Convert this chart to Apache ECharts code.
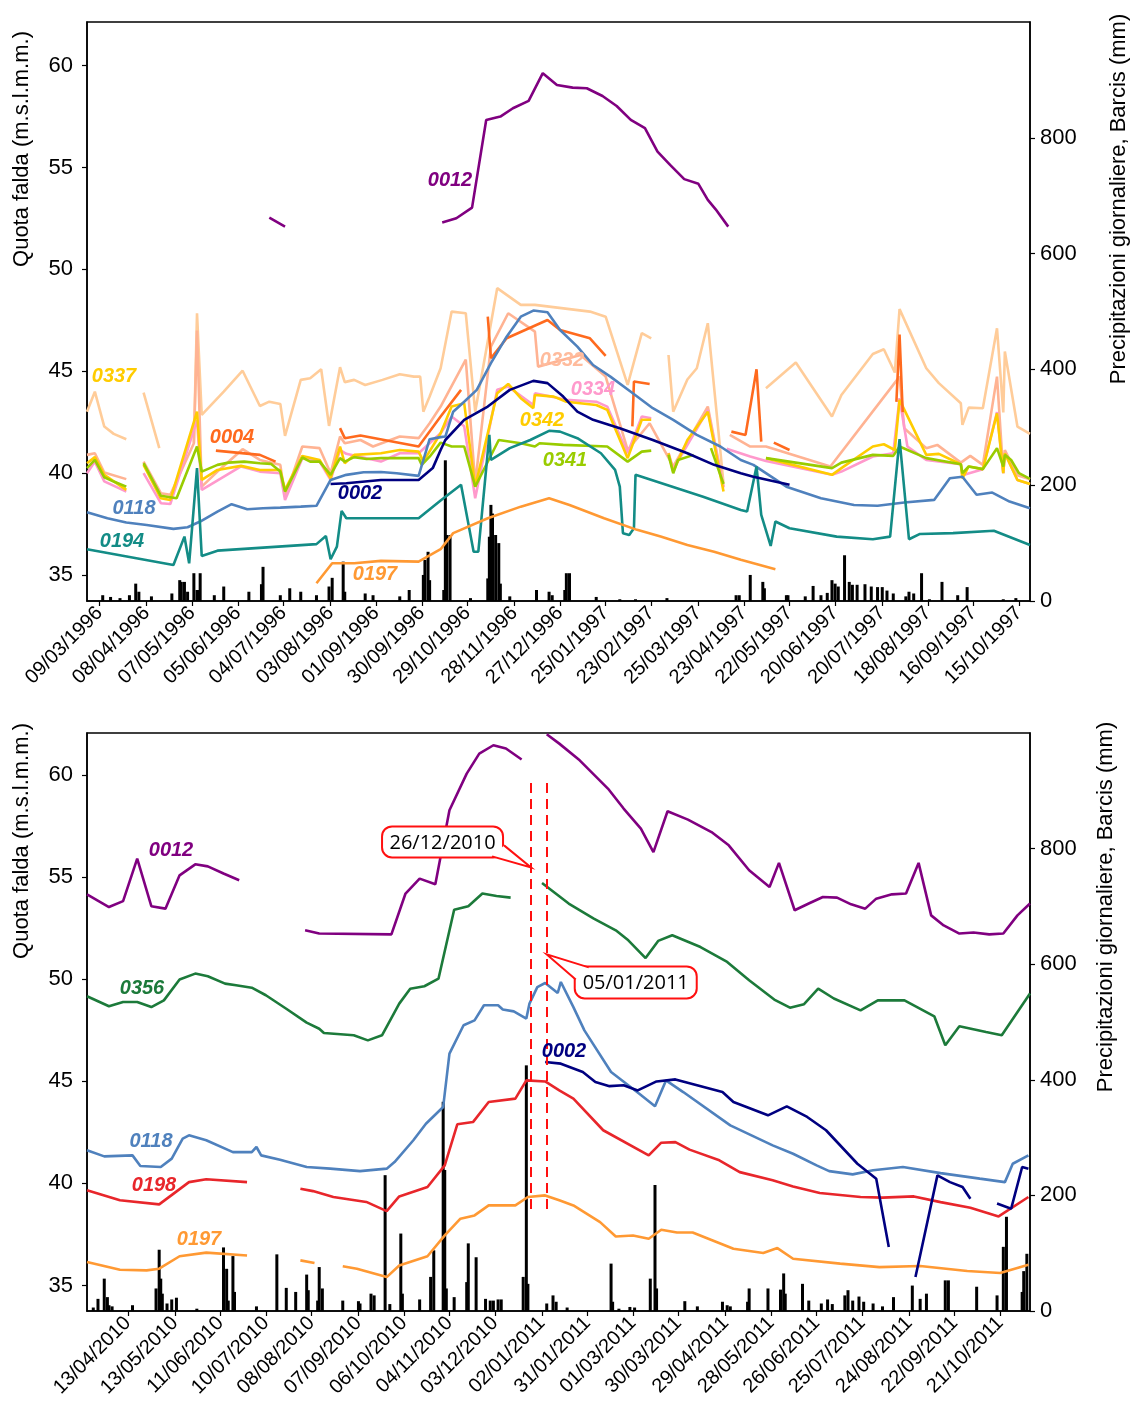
<!DOCTYPE html>
<html><head><meta charset="utf-8">
<script src="https://cdn.jsdelivr.net/npm/echarts@6/dist/echarts.min.js"></script>
<style>html,body{margin:0;padding:0;background:#fff}#c{width:1135px;height:1407px}</style>
</head><body><div id="c"></div>
<script>
// ---------- DATA ----------
// x values are days counted from the base date of each panel
const BASE_TOP = '01/03/1996';
const BASE_BOT = '18/03/2010';
const END_TOP = 600, END_BOT = 601;

const TICKS_TOP = ['09/03/1996','08/04/1996','07/05/1996','05/06/1996','04/07/1996','03/08/1996','01/09/1996','30/09/1996','29/10/1996','28/11/1996','27/12/1996','25/01/1997','23/02/1997','25/03/1997','23/04/1997','22/05/1997','20/06/1997','20/07/1997','18/08/1997','16/09/1997','15/10/1997'];
const TICKS_BOT = ['13/04/2010','13/05/2010','11/06/2010','10/07/2010','08/08/2010','07/09/2010','06/10/2010','04/11/2010','03/12/2010','02/01/2011','31/01/2011','01/03/2011','30/03/2011','29/04/2011','28/05/2011','26/06/2011','25/07/2011','24/08/2011','22/09/2011','21/10/2011'];
const LEVEL_TICKS = [35,40,45,50,55,60];
const RAIN_TICKS = [0,200,400,600,800];
const EVENT_DATES = ['26/12/2010','05/01/2011'];

// ---- 1996-1997 groundwater levels (m s.l.m.m.) ----
const TOP_0012 = [[116,52.54],[126,52.10],[175,null],[226,52.30],[235,52.51],[245,53.03],[254,57.33],[263,57.50],[271,57.91],[281,58.27],[290,59.63],[299,59.05],[309,58.92],[318,58.89],[328,58.51],[337,58.02],[346,57.34],[355,56.93],[363,55.78],[371,55.13],[380,54.43],[389,54.20],[395,53.41],[400,52.95],[408,52.10]];
const TOP_0337 = [[0,43.02],[5,44.00],[11,42.29],[17,41.93],[25,41.67],[30,null],[36,43.95],[46,41.23],[57,null],[68,41.5],[70,47.85],[73,42.86],[87,44.00],[99,45.03],[110,43.30],[116,43.51],[123,43.40],[126,41.83],[136,44.58],[142,44.66],[149,45.10],[154,42.32],[161,45.20],[164,44.47],[170,44.58],[177,44.33],[188,44.58],[199,44.86],[208,44.74],[212,44.74],[214,43.02],[218,43.76],[225,45.15],[232,47.93],[241,47.85],[247,43.02],[261,49.08],[276,48.26],[285,48.26],[320,47.93],[330,47.68],[344,44.33],[353,46.87],[359,46.62],[364,null],[370,45.80],[373,43.02],[382,44.6],[388,45.15],[395,47.36],[405,39.5],[418,null],[432,44.17],[451,45.43],[474,42.78],[480,43.84],[500,45.85],[507,46.08],[514,44.94],[517,48.05],[534,45.15],[542,44.42],[556,43.43],[557,42.37],[561,43.22],[570,43.19],[579,47.11],[583,42.98],[584,45.97],[592,42.29],[600,41.93]];
const TOP_0332 = [[0,40.90],[5,40.98],[11,40.03],[25,39.71],[30,null],[36,40.57],[47,39.02],[53,38.94],[68,41.47],[70,47.0],[73,39.34],[83,40.08],[99,41.18],[110,40.65],[123,40.41],[126,38.85],[137,41.31],[148,41.23],[155,40.00],[161,41.80],[164,41.47],[174,41.63],[182,41.31],[199,41.80],[211,41.72],[218,42.45],[225,43.27],[241,45.57],[247,39.51],[257,46.21],[268,47.85],[285,46.95],[287,45.23],[314,45.80],[330,44.74],[344,41.14],[358,42.45],[373,40.33],[395,43.27],[405,39.34],[407,null],[409,41.88],[422,41.31],[432,41.31],[473,40.33],[517,44.74],[520,42.21],[534,41.23],[541,41.39],[556,40.52],[562,40.85],[570,40.41],[579,44.74],[583,40.00],[584,41.14],[592,39.90],[600,39.70]];
const TOP_0334 = [[0,40.00],[5,40.57],[11,39.60],[25,39.10],[30,null],[36,40.00],[47,38.53],[53,38.49],[70,42.62],[73,39.18],[98,40.33],[110,40.08],[123,40.00],[126,38.69],[137,40.74],[148,40.57],[155,39.67],[161,41.14],[165,40.95],[187,40.57],[199,40.98],[211,40.98],[225,41.96],[232,42.78],[240,42.30],[247,38.77],[261,44.09],[268,44.25],[284,43.35],[285,43.92],[305,43.60],[324,43.51],[331,43.27],[344,40.98],[353,42.78],[359,42.70],[364,null],[370,41.00],[373,40.20],[395,43.10],[405,39.30],[406,null],[407,41.20],[422,40.82],[432,40.60],[474,39.92],[480,40.08],[500,40.82],[513,40.98],[517,43.68],[522,41.31],[534,40.65],[556,40.44],[557,39.90],[570,40.20],[579,43.00],[583,40.00],[584,40.98],[592,39.67],[600,39.47]];
const TOP_0342 = [[0,40.49],[5,40.79],[11,39.92],[25,39.18],[30,null],[36,40.41],[47,38.77],[53,38.69],[70,43.02],[73,39.67],[83,40.16],[98,40.36],[110,40.16],[123,40.16],[126,39.18],[137,40.85],[148,40.65],[155,39.75],[161,41.31],[164,40.49],[170,40.90],[187,40.98],[199,41.14],[211,41.06],[214,40.57],[225,41.96],[232,43.27],[240,43.43],[247,39.34],[261,43.92],[268,44.38],[276,43.68],[284,43.19],[285,43.84],[297,43.76],[305,43.51],[324,43.35],[331,43.11],[344,40.74],[353,42.62],[359,42.62],[364,null],[370,40.98],[373,40.08],[382,41.63],[395,43.02],[405,39.10],[418,null],[432,40.74],[474,39.92],[480,40.25],[500,41.31],[507,41.42],[514,41.14],[517,43.60],[534,40.90],[542,40.95],[556,40.44],[557,39.75],[561,40.33],[570,40.20],[579,42.94],[583,40.00],[584,40.98],[592,39.67],[600,39.47]];
const TOP_0341 = [[0,40.25],[5,40.65],[11,39.80],[17,39.59],[25,39.34],[30,null],[36,40.49],[47,38.89],[57,38.77],[70,41.31],[73,40.08],[83,40.41],[90,40.52],[100,40.57],[110,40.49],[117,40.46],[123,40.08],[126,39.10],[137,40.77],[142,40.57],[148,40.57],[155,39.92],[161,40.74],[164,40.57],[170,40.79],[178,40.70],[187,40.74],[211,40.74],[213,40.41],[218,40.81],[225,41.50],[232,41.31],[240,41.31],[247,39.34],[262,41.63],[276,41.47],[285,41.31],[288,41.47],[303,41.39],[331,41.31],[344,40.57],[353,41.06],[359,41.11],[364,null],[370,40.90],[373,40.00],[376,40.65],[386,40.90],[391,null],[397,41.23],[405,39.47],[418,null],[432,40.74],[474,40.25],[480,40.52],[500,40.90],[513,40.85],[517,41.31],[534,40.74],[556,40.44],[557,40.00],[561,40.33],[570,40.20],[579,41.23],[583,40.33],[584,40.90],[588,40.65],[593,40.00],[600,39.72]];
const TOP_0004 = [[82,41.11],[110,40.90],[120,40.57],[140,null],[161,42.21],[164,41.72],[174,41.85],[211,41.31],[225,42.78],[238,44.09],[246,null],[255,47.68],[257,45.64],[267,46.62],[293,47.52],[301,47.03],[320,46.62],[330,45.76],[340,null],[347,42.3],[348,44.5],[358,44.38],[380,null],[410,42.04],[419,41.88],[426,45.10],[429,41.55],[433,null],[437,41.50],[447,41.14],[480,null],[515,43.5],[517,46.8],[519,43.0]];
const TOP_0118 = [[0,38.09],[13,37.79],[25,37.58],[38,37.46],[55,37.27],[64,37.35],[72,37.63],[83,38.12],[92,38.48],[102,38.23],[112,38.28],[123,38.31],[136,38.36],[146,38.40],[155,39.67],[165,39.92],[176,40.05],[187,40.06],[197,40.00],[211,39.87],[218,41.67],[225,41.77],[228,41.80],[233,43.02],[240,43.51],[248,44.09],[257,45.40],[267,46.70],[276,47.68],[284,47.98],[293,47.90],[301,47.03],[312,46.21],[322,45.31],[333,44.74],[346,44.00],[360,43.19],[373,42.62],[388,41.88],[403,41.31],[416,40.65],[424,40.41],[445,39.34],[467,38.77],[488,38.44],[503,38.40],[520,38.56],[539,38.69],[549,39.75],[557,39.83],[566,38.94],[576,39.05],[587,38.61],[600,38.28]];
const TOP_0194 = [[0,36.27],[55,35.50],[62,36.89],[65,35.58],[70,40.25],[73,35.94],[83,36.20],[146,36.52],[152,36.92],[155,35.78],[159,36.40],[162,38.15],[165,37.79],[211,37.79],[225,38.66],[238,39.43],[246,36.15],[249,36.15],[256,41.88],[257,40.65],[269,41.23],[282,41.63],[294,42.08],[301,42.04],[312,41.72],[327,40.98],[336,40.16],[339,39.34],[341,37.06],[345,36.97],[348,37.30],[349,39.92],[392,38.85],[416,38.20],[420,38.12],[426,40.33],[429,37.95],[435,36.43],[438,37.63],[447,37.30],[477,36.89],[500,36.76],[511,36.89],[517,41.67],[523,36.76],[530,37.02],[551,37.06],[577,37.18],[600,36.48]];
const TOP_0002 = [[155,39.47],[165,39.51],[187,39.67],[211,39.67],[220,40.25],[225,41.14],[228,41.63],[240,42.62],[255,43.27],[269,44.09],[284,44.53],[293,44.42],[303,43.76],[312,43.02],[322,42.62],[339,42.21],[360,41.63],[382,40.98],[399,40.41],[416,40.00],[424,39.83],[447,39.43]];
const TOP_0197 = [[146,34.60],[156,35.58],[170,35.58],[187,35.70],[211,35.66],[225,36.27],[233,37.06],[255,37.79],[276,38.36],[294,38.77],[307,38.44],[329,37.79],[350,37.22],[365,36.89],[382,36.48],[399,36.15],[416,35.75],[438,35.29]];
// daily rainfall Barcis (mm)
const TOP_RAIN = [[10,10],[15,7],[21,5],[27,10],[31,30],[33,16],[41,8],[54,13],[59,36],[60,33],[62,33],[64,16],[68,48],[70,19],[71,19],[72,48],[81,10],[87,25],[103,16],[111,29],[112,59],[123,10],[129,22],[136,16],[146,10],[154,25],[156,40],[163,68],[164,16],[177,13],[182,10],[199,8],[205,19],[214,45],[215,71],[217,85],[218,36],[227,19],[228,243],[229,114],[231,114],[244,5],[255,39],[256,111],[257,166],[258,151],[260,114],[262,100],[263,30],[269,8],[286,19],[294,16],[296,10],[304,19],[305,48],[307,48],[324,7],[339,3],[349,3],[369,5],[413,10],[415,10],[422,45],[430,33],[431,22],[445,10],[446,10],[457,8],[462,26],[467,10],[471,14],[474,36],[476,30],[478,25],[482,79],[485,33],[487,28],[490,28],[495,29],[499,25],[503,24],[506,24],[509,18],[513,13],[521,8],[523,16],[526,13],[531,48],[536,3],[544,33],[554,10],[560,24],[583,3],[591,5]];

// ---- 2010-2011 groundwater levels ----
const BOT_0012 = [[0,54.15],[14,53.53],[23,53.82],[32,55.90],[41,53.57],[50,53.45],[59,55.08],[69,55.62],[77,55.52],[87,55.17],[97,54.84],[118,null],[139,52.39],[148,52.23],[194,52.19],[203,54.19],[212,54.92],[222,54.64],[231,58.27],[242,60.06],[250,61.04],[259,61.45],[267,61.29],[277,60.75],[285,null],[293,61.99],[301,61.53],[314,60.71],[332,59.33],[342,58.35],[353,57.37],[361,56.22],[370,58.22],[383,57.81],[398,57.20],[409,56.55],[422,55.33],[435,54.51],[441,55.69],[451,53.37],[460,53.70],[469,54.02],[478,53.99],[487,53.66],[496,53.45],[503,53.94],[513,54.15],[522,54.19],[530,55.69],[538,53.12],[546,52.63],[556,52.23],[565,52.28],[575,52.19],[584,52.23],[593,53.12],[601,53.70]];
const BOT_0356 = [[0,49.16],[14,48.67],[23,48.88],[32,48.88],[41,48.63],[49,48.96],[59,49.98],[69,50.27],[77,50.14],[88,49.78],[95,49.70],[105,49.58],[114,49.21],[127,48.55],[140,47.87],[148,47.57],[151,47.36],[170,47.25],[179,47.00],[188,47.25],[199,48.80],[206,49.53],[215,49.65],[224,50.02],[234,53.40],[243,53.57],[252,54.19],[261,54.07],[270,53.99],[280,null],[290,54.71],[307,53.70],[323,52.96],[337,52.39],[345,51.90],[356,51.03],[364,51.87],[373,52.15],[391,51.57],[408,50.84],[422,49.94],[438,49.00],[448,48.60],[457,48.77],[466,49.53],[476,49.05],[493,48.47],[504,48.96],[521,48.96],[540,48.18],[547,46.76],[556,47.69],[573,47.41],[583,47.25],[601,49.30]];
const BOT_0118 = [[0,41.62],[11,41.32],[29,41.37],[34,40.85],[47,40.80],[54,41.21],[61,42.19],[65,42.35],[76,42.11],[93,41.53],[105,41.53],[108,41.78],[111,41.37],[123,41.16],[140,40.80],[155,40.72],[174,40.60],[191,40.72],[196,41.04],[208,42.11],[216,42.92],[227,43.74],[231,46.35],[240,47.74],[247,47.98],[253,48.72],[262,48.72],[265,48.51],[272,48.42],[280,48.07],[282,48.80],[287,49.61],[292,49.81],[300,49.32],[302,49.86],[310,48.63],[317,47.49],[334,45.45],[352,44.39],[362,43.77],[369,45.04],[380,44.47],[410,42.84],[437,41.86],[450,41.45],[465,40.88],[473,40.60],[488,40.44],[501,40.64],[520,40.80],[544,40.50],[569,40.23],[585,40.06],[590,40.96],[600,41.37]];
const BOT_0198 = [[0,39.66],[21,39.17],[46,38.97],[65,40.06],[76,40.20],[102,40.06],[118,null],[136,39.74],[144,39.62],[157,39.33],[178,39.09],[191,38.64],[199,39.36],[217,39.82],[228,40.88],[236,42.89],[246,43.00],[256,43.98],[273,44.15],[280,45.04],[292,44.99],[301,44.55],[310,44.15],[329,42.60],[358,41.37],[366,41.99],[375,42.02],[384,41.65],[403,41.13],[416,40.55],[437,40.15],[450,39.85],[467,39.53],[493,39.33],[507,39.30],[527,39.36],[544,39.08],[563,38.81],[581,38.38],[600,39.33]];
const BOT_0197 = [[0,36.15],[21,35.77],[38,35.74],[46,35.82],[59,36.43],[76,36.61],[102,36.47],[118,null],[136,36.23],[145,36.10],[154,null],[163,35.94],[172,35.82],[191,35.41],[199,35.98],[217,36.43],[228,37.45],[238,38.27],[247,38.43],[256,38.92],[273,38.92],[281,39.33],[292,39.41],[301,39.17],[310,38.92],[327,38.10],[337,37.40],[348,37.45],[358,37.29],[366,37.73],[376,37.59],[386,37.59],[412,36.80],[431,36.59],[440,36.83],[450,36.31],[480,36.07],[505,35.90],[531,35.95],[561,35.71],[582,35.61],[600,36.02]];
const BOT_0002 = [[292,45.94],[302,45.86],[316,45.45],[324,44.96],[333,44.76],[342,44.80],[351,44.55],[363,44.99],[375,45.09],[405,44.47],[412,43.98],[434,43.33],[446,43.77],[459,43.25],[471,42.60],[491,40.96],[503,40.23],[511,36.88],[520,null],[528,35.41],[542,40.39],[550,40.06],[558,39.82],[563,39.25],[571,null],[580,39.01],[589,38.76],[596,40.80],[600,40.72]];
const BOT_RAIN = [[4,6],[7,21],[11,56],[13,24],[14,10],[16,8],[29,10],[44,39],[46,106],[47,56],[48,30],[51,13],[54,20],[57,23],[70,4],[87,110],[89,73],[90,18],[93,95],[94,33],[108,8],[121,98],[127,40],[133,33],[140,63],[141,36],[147,18],[148,76],[150,39],[163,18],[173,17],[174,13],[181,30],[183,27],[190,235],[193,12],[200,134],[201,30],[212,20],[219,59],[221,105],[227,362],[228,244],[229,39],[234,24],[242,50],[243,117],[248,93],[254,21],[257,18],[259,18],[262,20],[264,20],[278,59],[280,425],[281,47],[293,13],[297,27],[299,16],[306,6],[334,82],[335,16],[339,4],[346,7],[349,6],[359,56],[362,218],[363,39],[381,17],[389,8],[405,16],[408,10],[410,8],[421,16],[422,39],[434,39],[442,37],[444,65],[445,30],[456,47],[460,18],[468,13],[472,20],[475,12],[483,27],[485,36],[488,18],[492,25],[495,16],[501,13],[507,8],[514,24],[526,44],[531,21],[535,30],[547,53],[549,53],[567,42],[580,27],[584,111],[586,163],[596,33],[597,69],[599,99]];

// ---------- HELPERS ----------
const DAY = 86400000;
function parseDMY(s){const p=s.split('/').map(Number);return Date.UTC(p[2],p[1]-1,p[0]);}
function dayOf(s,base){return Math.round((parseDMY(s)-parseDMY(base))/DAY);}
function pad(n){return (n<10?'0':'')+n;}
function fmt(day,base){const t=new Date(parseDMY(base)+Math.round(day)*DAY);return pad(t.getUTCDate())+'/'+pad(t.getUTCMonth()+1)+'/'+t.getUTCFullYear();}

const FONT = '"Liberation Sans", Arial, sans-serif';
const topTickDays = TICKS_TOP.map(s=>dayOf(s,BASE_TOP));
const botTickDays = TICKS_BOT.map(s=>dayOf(s,BASE_BOT));

const COL = {
  c0012:'#800080', c0337:'#FFCC99', c0332:'#FFB393', c0334:'#FF99CC', c0342:'#FFCC00',
  c0341:'#99CC00', c0004:'#FF6A1E', c0118:'#4F81BD', c0194:'#138C86', c0002:'#000080',
  c0197:'#FF9933', c0356:'#1C7A3A', c0198:'#E8262B'
};

function line(data,color,xi,yi){
  return {type:'line',xAxisIndex:xi,yAxisIndex:yi,
    data:data.map(p=>[p[0],p[1]===null?'-':p[1]]),
    showSymbol:false,symbol:'none',connectNulls:false,
    lineStyle:{color:color,width:2.6},itemStyle:{color:color},
    emphasis:{disabled:true},animation:false,z:3};
}
function bars(data,xi,yi){
  return {type:'bar',xAxisIndex:xi,yAxisIndex:yi,data:data,barWidth:3,
    itemStyle:{color:'#000'},emphasis:{disabled:true},animation:false,z:2};
}
function xAxis(gi,max,ticks,base){
  return {type:'value',gridIndex:gi,min:0,max:max,
    axisLine:{show:true,onZero:false,lineStyle:{color:'#000',width:1.5}},
    axisTick:{show:true,customValues:ticks,length:5,lineStyle:{color:'#000',width:1.2}},
    axisLabel:{customValues:ticks,rotate:45,margin:9,fontSize:20,fontFamily:FONT,color:'#000',
      formatter:v=>fmt(v,base)},
    splitLine:{show:false}};
}
function yLevel(gi,min,max){
  return {type:'value',gridIndex:gi,position:'left',min:min,max:max,
    axisLine:{show:true,onZero:false,lineStyle:{color:'#000',width:1.5}},
    axisTick:{show:true,customValues:LEVEL_TICKS,length:5,lineStyle:{color:'#000',width:1.2}},
    axisLabel:{customValues:LEVEL_TICKS,margin:14,fontSize:22,fontFamily:FONT,color:'#000'},
    splitLine:{show:false}};
}
function yRain(gi){
  return {type:'value',gridIndex:gi,position:'right',min:0,max:1000,
    axisLine:{show:true,onZero:false,lineStyle:{color:'#000',width:1.5}},
    axisTick:{show:true,customValues:RAIN_TICKS,length:5,lineStyle:{color:'#000',width:1.2}},
    axisLabel:{customValues:RAIN_TICKS,margin:10,fontSize:22,fontFamily:FONT,color:'#000'},
    splitLine:{show:false}};
}

const eventDays = EVENT_DATES.map(s=>dayOf(s,BASE_BOT));
const s0198 = line(BOT_0198,COL.c0198,1,2);
s0198.markLine = {symbol:'none',silent:true,animation:false,label:{show:false},
  lineStyle:{color:'#FF1010',type:[10,6],width:2},
  data:eventDays.map(d=>[{coord:[d,59.6]},{coord:[d,38.55]}])};

const chart = echarts.init(document.getElementById('c'),null,{renderer:'canvas'});
const option = {
  animation:false,
  backgroundColor:'#fff',
  grid:[
    {left:87,top:22,width:943,height:579,show:true,borderColor:'#000',borderWidth:1.5},
    {left:87,top:733,width:943,height:578,show:true,borderColor:'#000',borderWidth:1.5}
  ],
  xAxis:[xAxis(0,END_TOP,topTickDays,BASE_TOP),xAxis(1,END_BOT,botTickDays,BASE_BOT)],
  yAxis:[yLevel(0,33.73,62.14),yRain(0),yLevel(1,33.75,62.05),yRain(1)],
  series:[
    bars(TOP_RAIN,0,1),
    line(TOP_0337,COL.c0337,0,0),
    line(TOP_0332,COL.c0332,0,0),
    line(TOP_0334,COL.c0334,0,0),
    line(TOP_0342,COL.c0342,0,0),
    line(TOP_0341,COL.c0341,0,0),
    line(TOP_0004,COL.c0004,0,0),
    line(TOP_0118,COL.c0118,0,0),
    line(TOP_0194,COL.c0194,0,0),
    line(TOP_0002,COL.c0002,0,0),
    line(TOP_0197,COL.c0197,0,0),
    line(TOP_0012,COL.c0012,0,0),
    bars(BOT_RAIN,1,3),
    line(BOT_0012,COL.c0012,1,2),
    line(BOT_0356,COL.c0356,1,2),
    line(BOT_0118,COL.c0118,1,2),
    s0198,
    line(BOT_0197,COL.c0197,1,2),
    line(BOT_0002,COL.c0002,1,2)
  ]
};
chart.setOption(option);

// ---------- annotations ----------
function txt(t,x,y,color,font,rot){
  return {type:'text',x:x,y:y,rotation:rot||0,silent:true,z:10,
    style:{text:t,x:0,y:0,fill:color,font:font,textAlign:'center',textVerticalAlign:'middle',verticalAlign:'middle'}};
}
const LBL = 'italic bold 20px '+FONT;
const g = [
  txt('Quota falda (m.s.l.m.m.)',22,149,'#000','22px '+FONT,Math.PI/2),
  txt('Precipitazioni giornaliere, Barcis (mm)',1119,199,'#000','22px '+FONT,Math.PI/2),
  txt('Quota falda (m.s.l.m.m.)',22,841,'#000','22px '+FONT,Math.PI/2),
  txt('Precipitazioni giornaliere, Barcis (mm)',1106,907,'#000','22px '+FONT,Math.PI/2),
  txt('0012',450,180,COL.c0012,LBL),
  txt('0337',114,376,'#FFCC00',LBL),
  txt('0004',232,437,COL.c0004,LBL),
  txt('0118',134,508,COL.c0118,LBL),
  txt('0194',122,541,COL.c0194,LBL),
  txt('0002',360,493,COL.c0002,LBL),
  txt('0197',375,574,COL.c0197,LBL),
  txt('0332',562,360,'#FFBB9C',LBL),
  txt('0334',593,389,COL.c0334,LBL),
  txt('0342',542,420,COL.c0342,LBL),
  txt('0341',565,460,COL.c0341,LBL),
  txt('0012',171,850,COL.c0012,LBL),
  txt('0356',142,988,COL.c0356,LBL),
  txt('0002',564,1051,COL.c0002,LBL),
  txt('0118',151,1141,COL.c0118,LBL),
  txt('0198',154,1185,COL.c0198,LBL),
  txt('0197',199,1239,COL.c0197,LBL)
];
function callout(label,tip,box,w1,w2){
  const R='#FF1010';
  g.push({type:'rect',silent:true,z:11,shape:{x:box[0],y:box[1],width:box[2],height:box[3],r:10},
    style:{fill:'#fff',stroke:R,lineWidth:2}});
  g.push({type:'polygon',silent:true,z:12,shape:{points:[w1,tip,w2]},style:{fill:'#fff',stroke:null}});
  g.push({type:'polyline',silent:true,z:13,shape:{points:[w1,tip,w2]},style:{fill:null,stroke:R,lineWidth:2}});
  g.push({type:'text',silent:true,z:14,x:box[0]+box[2]/2,y:box[1]+box[3]/2+1,
    style:{text:label,x:0,y:0,fill:'#000',font:'20px "Open Sans", "DejaVu Sans", sans-serif',textAlign:'center',textVerticalAlign:'middle',verticalAlign:'middle'}});
}
const p1 = chart.convertToPixel({xAxisIndex:1,yAxisIndex:2},[eventDays[0],55.47]);
const p2 = chart.convertToPixel({xAxisIndex:1,yAxisIndex:2},[eventDays[1],51.21]);
callout(EVENT_DATES[0],[p1[0],p1[1]],[p1[0]-149,p1[1]-41,121,31],[p1[0]-39,p1[1]-11],[p1[0]-27,p1[1]-22]);
callout(EVENT_DATES[1],[p2[0],p2[1]],[p2[0]+28,p2[1]+12,122,32],[p2[0]+29,p2[1]+25],[p2[0]+42,p2[1]+13]);
chart.setOption({graphic:g});
</script>
</body></html>
